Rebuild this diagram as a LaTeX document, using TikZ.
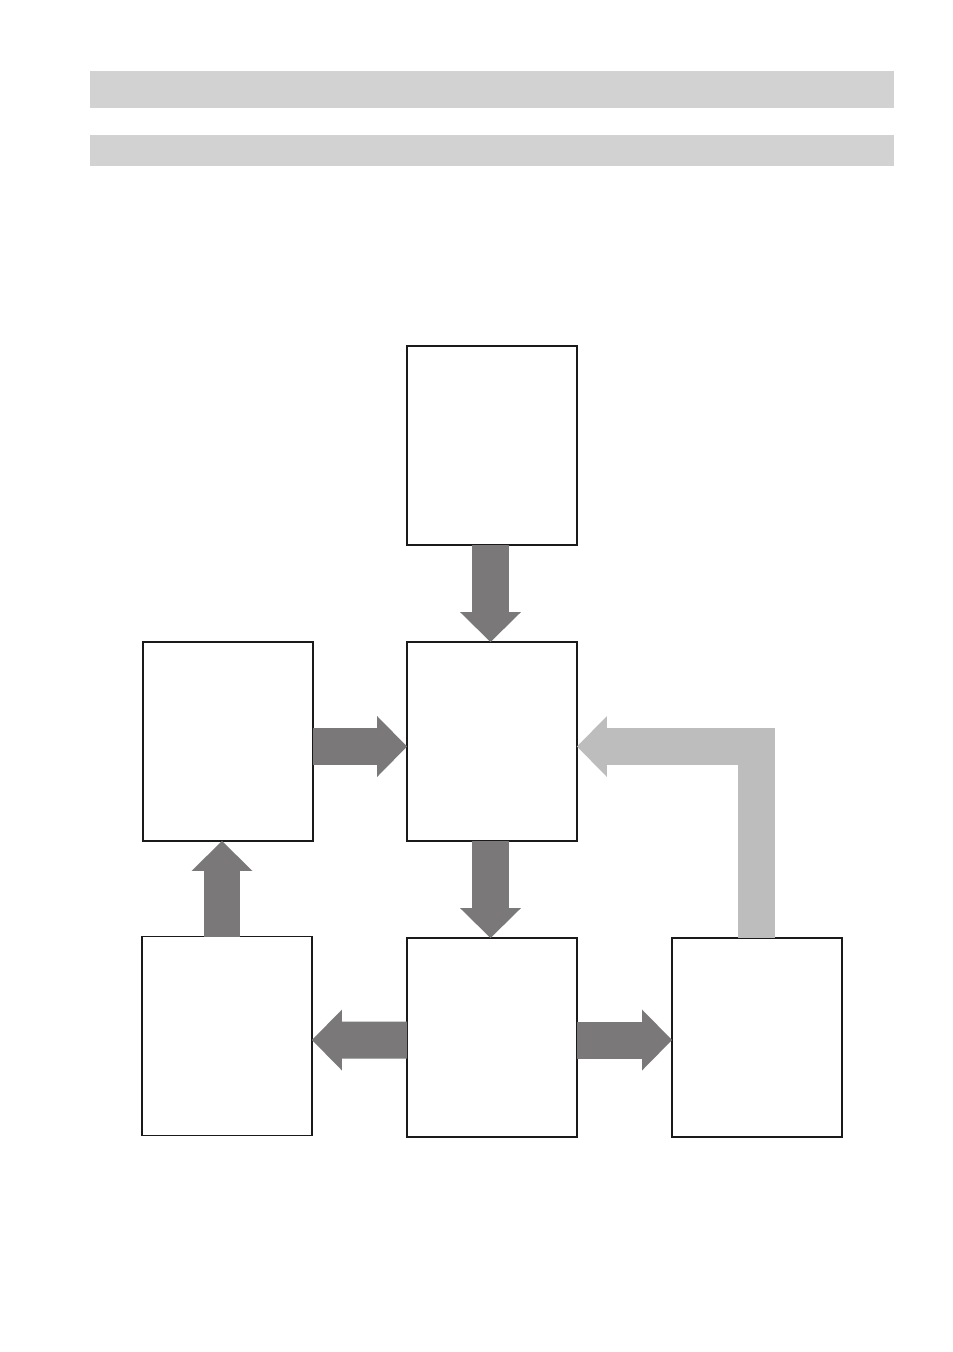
\documentclass[tikz,border=0pt]{standalone}
\usepackage{xcolor}
\definecolor{cBar}{HTML}{D2D2D2}
\definecolor{cFlow}{HTML}{7A7879}
\definecolor{cBack}{HTML}{BDBDBD}
\definecolor{cLine}{HTML}{1A1A1A}
\usepackage{tikz}
\usetikzlibrary{positioning,arrows.meta,calc}
\tikzset{
  head-bar/.style={fill=cBar,draw=none,minimum height=0.74cm,
    minimum width=16.08cm,inner sep=0pt,outer sep=0pt},
  node-box/.style={draw=cLine,line width=0.8pt,rectangle,
    minimum width=3.4cm,minimum height=3.98cm,inner sep=0pt,outer sep=0pt},
  % block arrows: fat shaft + triangle head
  arrow-flow/.style={draw=cFlow,line width=0.74cm,
    -{Triangle[length=0.6cm,width=1.22cm,line width=0pt]}},
  arrow-back/.style={draw=cBack,line width=0.74cm,line join=miter,
    -{Triangle[length=0.6cm,width=1.22cm,line width=0pt]}},
}
\begin{document}
\begin{tikzpicture}[x=0.02cm,y=-0.02cm]
  \useasboundingbox (0,0) rectangle (953,1352);
  \node[head-bar]                       (bar-a) at (492,89.5)  {};
  \node[head-bar,minimum height=0.62cm] (bar-b) at (492,150.5) {};

  \node[node-box] (top)  at (492,445.5)  {};
  \node[node-box] (mid)  at (492,741.5)  {};
  \node[node-box] (left) at (228,741.5)  {};
  \node[node-box] (bl)   at (227,1036)   {};
  \node[node-box] (bc)   at (492,1037.5) {};
  \node[node-box] (br)   at (757,1037.5) {};
  \draw[cLine,line width=1.2pt] (top.south west) -- (top.south east);

  \coordinate (loop-x) at (756,0);
  \draw[arrow-flow] ([xshift=-0.03cm]top.south) -- ([xshift=-0.03cm]mid.north);
  \draw[arrow-flow] ([xshift=-0.03cm]mid.south) -- ([xshift=-0.03cm]bc.north);
  \draw[arrow-flow] ($(left.east)+(0,5)$) -- ($(mid.west)+(0,5)$);
  \draw[arrow-flow] ($(bc.west)+(0,2.5)$) -- ($(bl.east)+(0,4)$);
  \draw[arrow-flow] ($(bc.east)+(0,2.5)$) -- ($(br.west)+(0,2.5)$);
  \draw[arrow-flow] ($(bl.north)+(-5,0)$) -- ($(left.south)+(-6,0)$);
  \draw[arrow-back] (br.north -| loop-x) |- ($(mid.east)+(0,5)$);
\end{tikzpicture}
\end{document}
